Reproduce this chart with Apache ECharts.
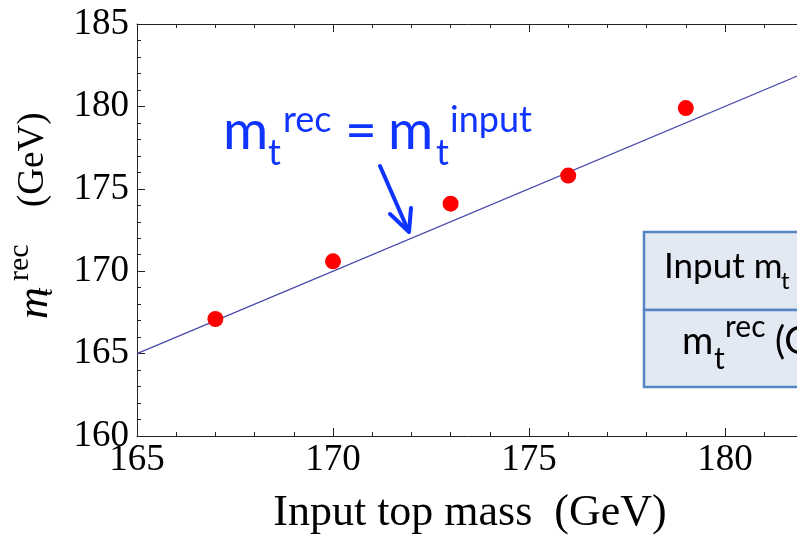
<!DOCTYPE html>
<html>
<head>
<meta charset="utf-8">
<script src="https://cdn.jsdelivr.net/npm/echarts@6/dist/echarts.min.js"></script>
<style>
  html, body { margin: 0; padding: 0; background: #fff; }
  #chart { width: 797px; height: 539px; }
</style>
</head>
<body>
<div id="chart"></div>
<script>
// measured points: input top mass vs reconstructed mass
const inputMass = [167, 170, 173, 176, 179];
const recMass = [167.1, 170.6, 174.1, 175.8, 179.9];

// m_rec = m_input reference line
const lineX = [165, 185];
const lineY = [165, 185];

const xRange = [165, 185];
const yRange = [160, 185];

const serif = '"Liberation Serif", "DejaVu Serif", serif';
const sans = 'Lato, "Open Sans", sans-serif';
const blue = '#1034ff';

const chart = echarts.init(document.getElementById('chart'));

// one text piece, y given as the baseline
function txt(x, base, s, size, opts) {
  opts = opts || {};
  const k = opts.family === serif ? 0.3375 : 0.387;
  return {
    type: 'text',
    x: x,
    y: base - k * size,
    z: 100,
    style: {
      text: s,
      font: (opts.italic ? 'italic ' : '') + size + 'px ' + (opts.family || sans),
      fill: opts.color || '#000',
      align: opts.align || 'left',
      verticalAlign: 'middle'
    }
  };
}

// rotated piece for the y title (reads bottom to top)
function rtxt(base, start, s, size, italic) {
  return {
    type: 'text',
    x: base - 0.3375 * size,
    y: start,
    z: 100,
    rotation: Math.PI / 2,
    style: {
      text: s,
      font: (italic ? 'italic ' : '') + size + 'px ' + serif,
      fill: '#000',
      align: 'left',
      verticalAlign: 'middle'
    }
  };
}

const axisCommon = {
  type: 'value',
  axisLine: { show: true, lineStyle: { color: '#222', width: 1 } },
  axisTick: { show: true, inside: true, length: 8, lineStyle: { color: '#222' } },
  minorTick: { show: true, splitNumber: 5, length: 4, lineStyle: { color: '#222' } },
  splitLine: { show: false }
};

const option = {
  animation: false,
  backgroundColor: '#fff',
  grid: { left: 137, top: 24, width: 784, height: 412, outerBoundsMode: 'none', containLabel: false },
  xAxis: [
    Object.assign({}, axisCommon, {
      min: xRange[0], max: xRange[1], interval: 5,
      axisLabel: { fontFamily: serif, fontSize: 37, color: '#000', margin: 6 }
    }),
    Object.assign({}, axisCommon, {
      position: 'top',
      min: xRange[0], max: xRange[1], interval: 5,
      axisLabel: { show: false }
    })
  ],
  yAxis: [
    Object.assign({}, axisCommon, {
      min: yRange[0], max: yRange[1], interval: 5,
      axisLabel: { fontFamily: serif, fontSize: 37, color: '#000', margin: 8 }
    })
  ],
  series: [
    {
      type: 'line',
      data: lineX.map((x, i) => [x, lineY[i]]),
      symbol: 'none',
      lineStyle: { color: '#4646aa', width: 1.2 },
      z: 2
    },
    {
      type: 'scatter',
      data: inputMass.map((x, i) => [x, recMass[i]]),
      symbolSize: 16,
      itemStyle: { color: '#ff0000', opacity: 1 },
      z: 3
    }
  ],
  graphic: [
    // axis titles
    txt(470, 528, 'Input top mass  (GeV)', 44, { family: serif, align: 'center' }),
    rtxt(50, 319, 'm', 44, true),
    rtxt(54, 296, 't', 28, true),
    rtxt(30, 281, 'rec', 30, false),
    rtxt(46, 207, '(GeV)', 37, false),

    // annotation m_t^rec = m_t^input
    txt(223, 153, 'm', 55, { color: blue }),
    txt(268, 167, 't', 36, { color: blue }),
    txt(283, 134, 'rec', 36, { color: blue }),
    txt(345, 153, '=', 55, { color: blue }),
    txt(388, 153, 'm', 55, { color: blue }),
    txt(436, 167, 't', 36, { color: blue }),
    txt(450, 134, 'input', 36, { color: blue }),
    {
      type: 'line', z: 100,
      shape: { x1: 380, y1: 166, x2: 408, y2: 230 },
      style: { stroke: blue, lineWidth: 4, lineCap: 'round' }
    },
    {
      type: 'polyline', z: 100,
      shape: { points: [[390, 214], [409, 232], [411, 208]] },
      style: { stroke: blue, lineWidth: 4, lineCap: 'round', lineJoin: 'round', fill: null }
    },

    // table box on the right
    {
      type: 'rect', z: 90,
      shape: { x: 644, y: 232, width: 220, height: 78 },
      style: { fill: '#e2e9f3', stroke: '#5585c2', lineWidth: 2.5 }
    },
    {
      type: 'rect', z: 90,
      shape: { x: 644, y: 310, width: 220, height: 77 },
      style: { fill: '#e2e9f3', stroke: '#5585c2', lineWidth: 2.5 }
    },
    txt(664, 280, 'Input m', 35),
    txt(781, 291, 't', 24),
    txt(682, 356, 'm', 38),
    txt(714, 371, 't', 30),
    txt(725, 339, 'rec', 30),
    txt(775, 356, '(GeV)', 38)
  ]
};

chart.setOption(option);
</script>
</body>
</html>
